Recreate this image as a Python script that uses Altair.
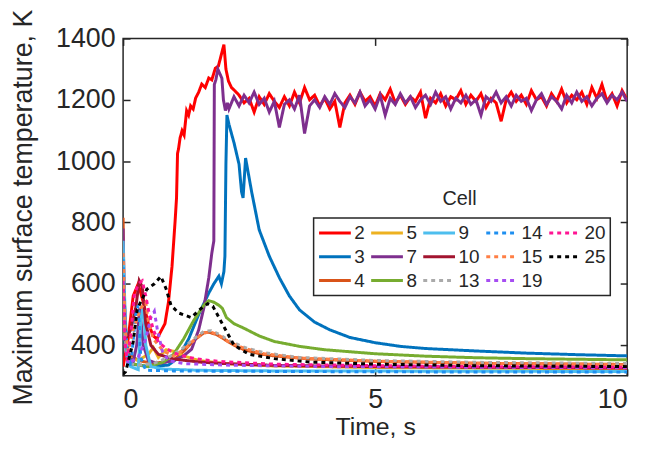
import altair as alt
import pandas as pd

FONT = "Liberation Sans"

# plotting order (z-order); the legend fills column by column in this order
cells = ["2", "3", "4", "5", "7", "8", "9", "10", "13", "14", "15", "19", "20", "25"]
cell_colors = {
    "2": "#FF0000", "3": "#0072BD", "4": "#D95319", "5": "#EDB120", "7": "#7E2F8E",
    "8": "#77AC30", "9": "#4DBEEE", "10": "#A2142F", "13": "#AAAAAA", "14": "#1E8FF0",
    "15": "#FF7F45", "19": "#A64DF2", "20": "#FF1493", "25": "#000000",
}
dotted_cells = ["13", "14", "15", "19", "20", "25"]

# ---- Cell 2 (red)
t2_head = [0, 0.1, 0.2, 0.3, 0.4, 0.5, 0.6, 0.67, 0.75, 0.83, 0.9, 0.97, 1.03, 1.06, 1.08,
           1.1, 1.13, 1.17, 1.21, 1.26, 1.3, 1.34, 1.39, 1.44, 1.5, 1.56, 1.63, 1.7, 1.76,
           1.83, 1.89, 1.95, 2.0, 2.04, 2.09, 2.15, 2.22]
T2_head = [330, 420, 560, 600, 540, 470, 430, 420, 445, 470, 540, 656, 800, 880, 1025,
           1040, 1075, 1099, 1085, 1164, 1150, 1180, 1170, 1206, 1225, 1251, 1240, 1271, 1265,
           1303, 1310, 1348, 1380, 1300, 1261, 1240, 1229]
t2_tail = [2.3, 2.4, 2.5, 2.6, 2.7, 2.8, 2.9,
           3.0, 3.1, 3.2, 3.3, 3.4, 3.5, 3.6, 3.7, 3.8, 3.9,
           4.0, 4.1, 4.2, 4.3, 4.4, 4.5, 4.6, 4.7, 4.8, 4.9,
           5.0, 5.1, 5.2, 5.3, 5.4, 5.5, 5.6, 5.7, 5.8, 5.9,
           6.0, 6.1, 6.2, 6.3, 6.4, 6.5, 6.6, 6.7, 6.8, 6.9,
           7.0, 7.1, 7.2, 7.3, 7.4, 7.5, 7.6, 7.7, 7.8, 7.9,
           8.0, 8.1, 8.2, 8.3, 8.4, 8.5, 8.6, 8.7, 8.8, 8.9,
           9.0, 9.1, 9.2, 9.3, 9.4, 9.5, 9.6, 9.7, 9.8, 9.9,
           10.0]
T2_tail = [1215, 1190, 1205, 1160, 1210, 1185, 1220,
           1195, 1175, 1210, 1180, 1225, 1190, 1240, 1200, 1215, 1180,
           1205, 1170, 1195, 1110, 1190, 1215, 1185, 1225, 1195, 1210,
           1180, 1220, 1200, 1235, 1190, 1215, 1185, 1210, 1195, 1225,
           1140, 1205, 1190, 1220, 1180, 1210, 1200, 1230, 1185, 1215,
           1195, 1220, 1175, 1205, 1190, 1130, 1200, 1225, 1195, 1215,
           1185, 1230, 1200, 1210, 1180, 1220, 1195, 1235, 1190, 1215,
           1200, 1225, 1185, 1240, 1205, 1250, 1195, 1220, 1180, 1230,
           1200]

# ---- Cell 7 (purple)
t7_head = [0, 0.02, 0.06, 0.12, 0.2, 0.27, 0.33, 0.4, 0.5, 0.7, 1.0, 1.2, 1.36, 1.5, 1.6,
           1.7, 1.76, 1.8, 1.81, 1.84, 1.88, 1.92, 1.96, 1.99, 2.03, 2.07]
T7_head = [780, 560, 420, 360, 345, 400, 520, 400, 350, 340, 350, 365, 387, 450, 520,
           620, 700, 740, 1250, 1265, 1300, 1285, 1270, 1200, 1165, 1190]
t7_tail = [2.1, 2.2, 2.3, 2.4, 2.5, 2.6, 2.7, 2.8, 2.9,
           3.0, 3.1, 3.2, 3.3, 3.4, 3.5, 3.6, 3.7, 3.8, 3.9,
           4.0, 4.1, 4.2, 4.3, 4.4, 4.5, 4.6, 4.7, 4.8, 4.9,
           5.0, 5.1, 5.2, 5.3, 5.4, 5.5, 5.6, 5.7, 5.8, 5.9,
           6.0, 6.1, 6.2, 6.3, 6.4, 6.5, 6.6, 6.7, 6.8, 6.9,
           7.0, 7.1, 7.2, 7.3, 7.4, 7.5, 7.6, 7.7, 7.8, 7.9,
           8.0, 8.1, 8.2, 8.3, 8.4, 8.5, 8.6, 8.7, 8.8, 8.9,
           9.0, 9.1, 9.2, 9.3, 9.4, 9.5, 9.6, 9.7, 9.8, 9.9,
           10.0]
T7_tail = [1170, 1210, 1180, 1215, 1190, 1225, 1185, 1205, 1160,
           1195, 1110, 1185, 1200, 1170, 1215, 1090, 1180, 1200, 1175,
           1210, 1185, 1220, 1195, 1175, 1210, 1190, 1225, 1180, 1200,
           1170, 1215, 1150, 1205, 1185, 1220, 1190, 1210, 1175, 1200,
           1215, 1185, 1225, 1195, 1210, 1170, 1205, 1190, 1215, 1185,
           1200, 1150, 1210, 1195, 1225, 1190, 1210, 1180, 1215, 1195,
           1205, 1165, 1200, 1220, 1185, 1210, 1195, 1170, 1215, 1190,
           1225, 1195, 1210, 1180, 1205, 1220, 1190, 1215, 1200, 1225,
           1195]

# ---- Cell 3 (blue)
t3 = [0, 0.03, 0.1, 0.5, 0.9, 1.1, 1.3, 1.5, 1.7, 1.8, 1.9, 1.95, 2.0, 2.02, 2.04, 2.06,
      2.1, 2.2, 2.3, 2.35, 2.38, 2.43, 2.55, 2.7, 2.9, 3.1, 3.3, 3.5, 3.8, 4.1, 4.5, 5.0,
      5.5, 6.0, 7.0, 8.0, 9.0, 10.0]
T3 = [700, 420, 340, 330, 335, 360, 420, 500, 570, 600, 625, 600, 640, 690, 990, 1150,
      1120, 1060, 990, 900, 880, 1010, 900, 776, 690, 620, 560, 515, 475, 450, 425, 408,
      396, 389, 381, 374, 369, 365]

# ---- Cell 4 (orange)
t4 = [0, 0.02, 0.06, 0.12, 0.3, 0.6, 1.0, 1.2, 1.4, 1.6, 1.7, 1.85, 2.0, 2.2, 2.4, 2.7,
      3.0, 3.7, 5.0, 7.0, 10.0]
T4 = [815, 560, 420, 370, 350, 340, 350, 380, 415, 440, 442, 435, 420, 400, 385, 372,
      365, 355, 347, 341, 337]

# ---- Cell 5 (yellow)
t5 = [0, 0.03, 0.1, 0.3, 0.5, 0.6, 0.7, 0.85, 1.0, 1.2, 1.5, 2.0, 3.0, 5.0, 10.0]
T5 = [640, 450, 360, 350, 370, 392, 360, 385, 380, 365, 350, 340, 332, 327, 322]

# ---- Cell 8 (green)
t8 = [0, 0.05, 0.15, 0.5, 0.8, 1.0, 1.2, 1.4, 1.6, 1.7, 1.8, 1.9, 1.97, 2.05, 2.2, 2.4,
      2.7, 3.0, 3.5, 4.0, 5.0, 6.0, 7.0, 8.0, 9.0, 10.0]
T8 = [560, 400, 340, 330, 345, 370, 420, 480, 530, 545, 540, 530, 520, 490, 470, 455,
      430, 412, 396, 385, 372, 364, 359, 356, 354, 352]

# ---- Cell 9 (light blue)
t9 = [0, 0.02, 0.05, 0.08, 0.15, 0.3, 0.35, 0.4, 0.45, 0.55, 0.8, 1.5, 3.0, 10.0]
T9 = [740, 600, 470, 360, 330, 320, 480, 530, 400, 330, 322, 318, 316, 314]

# ---- Cell 10 (dark red)
t10 = [0, 0.05, 0.15, 0.25, 0.32, 0.38, 0.45, 0.55, 0.7, 1.0, 1.5, 2.0, 3.0, 5.0, 10.0]
T10 = [600, 420, 450, 520, 610, 590, 470, 400, 370, 355, 345, 340, 334, 330, 325]

# ---- Cell 13 (gray dotted)
t13 = [0, 0.04, 0.12, 0.3, 0.6, 0.9, 1.2, 1.4, 1.6, 1.75, 1.9, 2.1, 2.4, 2.8, 3.5, 5.0,
       7.0, 10.0]
T13 = [620, 420, 340, 335, 340, 360, 392, 420, 445, 447, 436, 415, 393, 375, 360, 350,
       344, 340]

# ---- Cell 14 (blue dotted)
t14 = [0, 0.03, 0.08, 0.15, 0.25, 0.3, 0.35, 0.45, 1.0, 2.0, 5.0, 10.0]
T14 = [680, 500, 380, 330, 500, 530, 360, 318, 316, 315, 313, 312]

# ---- Cell 15 (orange dotted)
t15 = [0, 0.04, 0.1, 0.2, 0.35, 0.45, 0.5, 0.6, 0.8, 1.0, 1.2, 1.4, 1.6, 1.75, 1.9, 2.1,
       2.4, 2.8, 3.5, 5.0, 7.0, 10.0]
T15 = [700, 450, 380, 450, 520, 540, 480, 420, 380, 365, 385, 415, 440, 442, 432, 410,
       390, 372, 358, 348, 341, 336]

# ---- Cell 19 (violet dotted)
t19 = [0, 0.04, 0.1, 0.3, 0.45, 0.55, 0.62, 0.68, 0.78, 0.9, 1.2, 2.0, 4.0, 10.0]
T19 = [560, 400, 340, 360, 420, 490, 510, 450, 380, 350, 340, 335, 330, 326]

# ---- Cell 20 (magenta dotted)
t20 = [0, 0.03, 0.08, 0.15, 0.22, 0.3, 0.38, 0.45, 0.52, 0.6, 0.7, 0.85, 1.0, 1.3, 1.6,
       2.0, 3.0, 5.0, 7.0, 10.0]
T20 = [610, 420, 350, 430, 560, 600, 610, 560, 500, 450, 410, 390, 375, 360, 352, 346,
       338, 333, 330, 328]

# ---- Cell 25 (black dotted)
t25 = [0, 0.05, 0.2, 0.28, 0.47, 0.62, 0.75, 0.85, 0.95, 1.1, 1.35, 1.55, 1.68, 1.78, 1.95,
       2.2, 2.5, 3.0, 3.7, 5.0, 7.0, 10.0]
T25 = [305, 313, 410, 517, 582, 600, 624, 585, 530, 505, 490, 520, 535, 527, 475, 400,
       370, 356, 345, 338, 333, 330]

series = {
    "2": (t2_head + t2_tail, T2_head + T2_tail),
    "3": (t3, T3),
    "4": (t4, T4),
    "5": (t5, T5),
    "7": (t7_head + t7_tail, T7_head + T7_tail),
    "8": (t8, T8),
    "9": (t9, T9),
    "10": (t10, T10),
    "13": (t13, T13),
    "14": (t14, T14),
    "15": (t15, T15),
    "19": (t19, T19),
    "20": (t20, T20),
    "25": (t25, T25),
}

rows = []
for c in cells:
    ts, Ts = series[c]
    for i, (tv, Tv) in enumerate(zip(ts, Ts)):
        rows.append({"cell": c, "t": tv, "T": Tv, "seq": i})
df = pd.DataFrame(rows)

x_scale = alt.Scale(domain=[0, 10], nice=False, zero=False)
y_scale = alt.Scale(domain=[300, 1400], nice=False, zero=False)
x_vals = [0, 5, 10]
y_vals = [400, 600, 800, 1000, 1200, 1400]

axis_common = dict(
    domain=False, tickSize=7, offset=-7, tickColor="#262626", tickWidth=1.5,
    grid=False, labelFont=FONT, titleFont=FONT, labelColor="#262626", titleColor="#262626",
    labelFontSize=27, titleFontWeight="normal", format="d",
)

lines = alt.Chart(df).mark_line(strokeWidth=3, clip=True, strokeCap="butt").encode(
    x=alt.X("t:Q", scale=x_scale,
            axis=alt.Axis(orient="bottom", values=x_vals, title="Time, s",
                          labelPadding=11, titlePadding=2, titleFontSize=25, **axis_common)),
    y=alt.Y("T:Q", scale=y_scale,
            axis=alt.Axis(orient="left", values=y_vals, title="Maximum surface temperature, K",
                          labelPadding=8, titlePadding=18, titleFontSize=27, **axis_common)),
    color=alt.Color("cell:N",
                    scale=alt.Scale(domain=cells,
                                    range=[cell_colors[c] for c in cells]),
                    legend=alt.Legend(title=None)),
    strokeDash=alt.StrokeDash("cell:N",
                              scale=alt.Scale(domain=cells,
                                              range=[[4, 4] if c in dotted_cells else [1, 0]
                                                     for c in cells]),
                              legend=alt.Legend(title=None)),
    order=alt.Order("seq:Q"),
)

frame = alt.Chart(df).mark_point(opacity=0).encode(
    x=alt.X("t:Q", scale=x_scale,
            axis=alt.Axis(orient="top", values=x_vals, labels=False, title=None, **axis_common)),
    y=alt.Y("T:Q", scale=y_scale,
            axis=alt.Axis(orient="right", values=y_vals, labels=False, title=None, **axis_common)),
)

legend_title = alt.Chart(pd.DataFrame({"label": ["Cell"]})).mark_text(
    font=FONT, fontSize=20, color="#262626", align="center", baseline="middle"
).encode(x=alt.value(339), y=alt.value(162), text="label:N")

chart = alt.layer(frame, lines, legend_title).resolve_axis(
    x="independent", y="independent"
).properties(
    width=508, height=340,
    autosize=alt.AutoSizeParams(type="none"),
    padding={"left": 116, "top": 29, "right": 20, "bottom": 64},
).configure_view(
    stroke="#262626", strokeWidth=1.5
).configure_legend(
    orient="none", legendX=192, legendY=181, columns=5,
    symbolType="stroke", symbolSize=1024, symbolStrokeWidth=3,
    clipHeight=22, rowPadding=2, columnPadding=4.5, labelOffset=2,
    labelFont=FONT, labelFontSize=19, labelColor="#262626",
    strokeColor="#262626", strokeWidth=1.5, padding=4, fillColor="white",
)

chart.save("out.html", embed_options={"renderer": "svg", "actions": False})
